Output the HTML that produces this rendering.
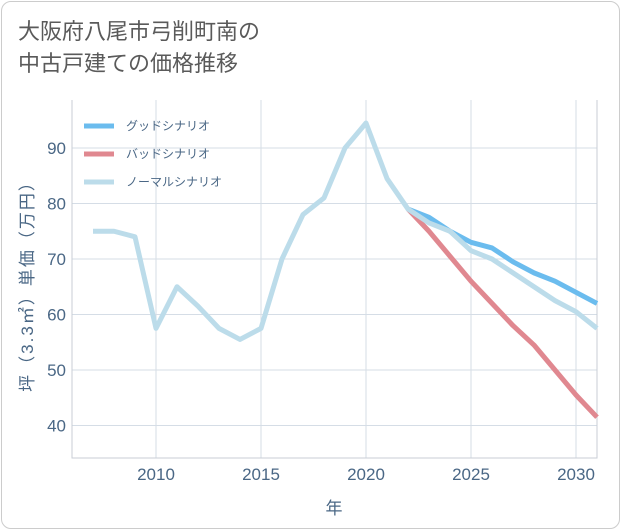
<!DOCTYPE html>
<html><head><meta charset="utf-8"><style>
body{margin:0;background:#fff;font-family:"Liberation Sans","Noto Sans CJK JP",sans-serif}
#card{position:absolute;left:1px;top:1px;width:617px;height:526px;border:1px solid #ccc;border-radius:10px;background:#fff}
#title{position:absolute;left:16px;top:14px;font-size:22px;line-height:32px;color:#5a5a5a}
</style></head><body>
<div id="card">
<div id="title">大阪府八尾市弓削町南の<br>中古戸建ての価格推移</div>
</div>
<svg id="chart" width="621" height="530" style="position:absolute;left:0;top:0"></svg>
<script>
const years=[2007,2008,2009,2010,2011,2012,2013,2014,2015,2016,2017,2018,2019,2020,2021,2022,2023,2024,2025,2026,2027,2028,2029,2030,2031];
const normal=[75,75,74,57.5,65,61.5,57.5,55.5,57.5,70,78,81,90,94.5,84.5,79,76.5,75,71.5,70,67.5,65,62.5,60.5,57.5];
const futureYears=[2022,2023,2024,2025,2026,2027,2028,2029,2030,2031];
const good=[79,77.5,75,73,72,69.5,67.5,66,64,62];
const bad=[79,75,70.5,66,62,58,54.5,50,45.5,41.5];
const xTicks=[2010,2015,2020,2025,2030];
const yTicks=[40,50,60,70,80,90];
const L=72,R=597,T=100,B=458;
const X=y=>156+(y-2010)*21;
const Y=v=>148+(90-v)*5.55;
const svg=document.getElementById('chart');
const NS='http://www.w3.org/2000/svg';
function mk(t,a){const e=document.createElementNS(NS,t);for(const k in a)e.setAttribute(k,a[k]);svg.appendChild(e);return e;}
xTicks.forEach(t=>{
 const g=mk('line',{x1:X(t),x2:X(t),y1:T,y2:B,stroke:'#d5dde6','stroke-width':1});
 
 
 const tx=mk('text',{x:X(t),y:480,'text-anchor':'middle','font-size':17,fill:'#4a6785'});tx.textContent=t;
 
 
});
yTicks.forEach(t=>{
 const g=mk('line',{x1:L,x2:R,y1:Y(t),y2:Y(t),stroke:'#d5dde6','stroke-width':1});
 
 
 const tx=mk('text',{x:66,y:Y(t)+6,'text-anchor':'end','font-size':17,fill:'#4a6785'});tx.textContent=t;
 
 
});
const ax=mk('path',{d:`M${L} ${T}V${B}H${R}V${T}`,fill:'none',stroke:'#c8ced6'});


function line(xs,vs,c,n){const p=mk('polyline',{points:xs.map((x,i)=>X(x)+','+Y(vs[i])).join(' '),fill:'none',stroke:c,'stroke-width':5,'stroke-linejoin':'round'});
 
 }
line(futureYears,good,'#6bbcee','good-scenario-line');
line(futureYears,bad,'#e08890','bad-scenario-line');
line(years,normal,'#bcdcea','normal-scenario-line');
const leg=[['グッドシナリオ','#6bbcee'],['バッドシナリオ','#e08890'],['ノーマルシナリオ','#bcdcea']];
leg.forEach((l,i)=>{const y=126+i*28;
 const s=mk('line',{x1:84,x2:114,y1:y,y2:y,stroke:l[1],'stroke-width':5});
 
 
 const t=mk('text',{x:126,y:y+4,'font-size':12,fill:'#4a6785'});t.textContent=l[0];
 
 
});
const xl=mk('text',{x:334,y:514,'text-anchor':'middle','font-size':17,fill:'#4a6785'});xl.textContent='年';


const yl=mk('text',{x:0,y:0,'text-anchor':'middle','font-size':17,'letter-spacing':2,fill:'#4a6785',transform:'translate(33,282) rotate(-90)'});yl.textContent='坪（3.3㎡）単価（万円）';


</script>
</body></html>
